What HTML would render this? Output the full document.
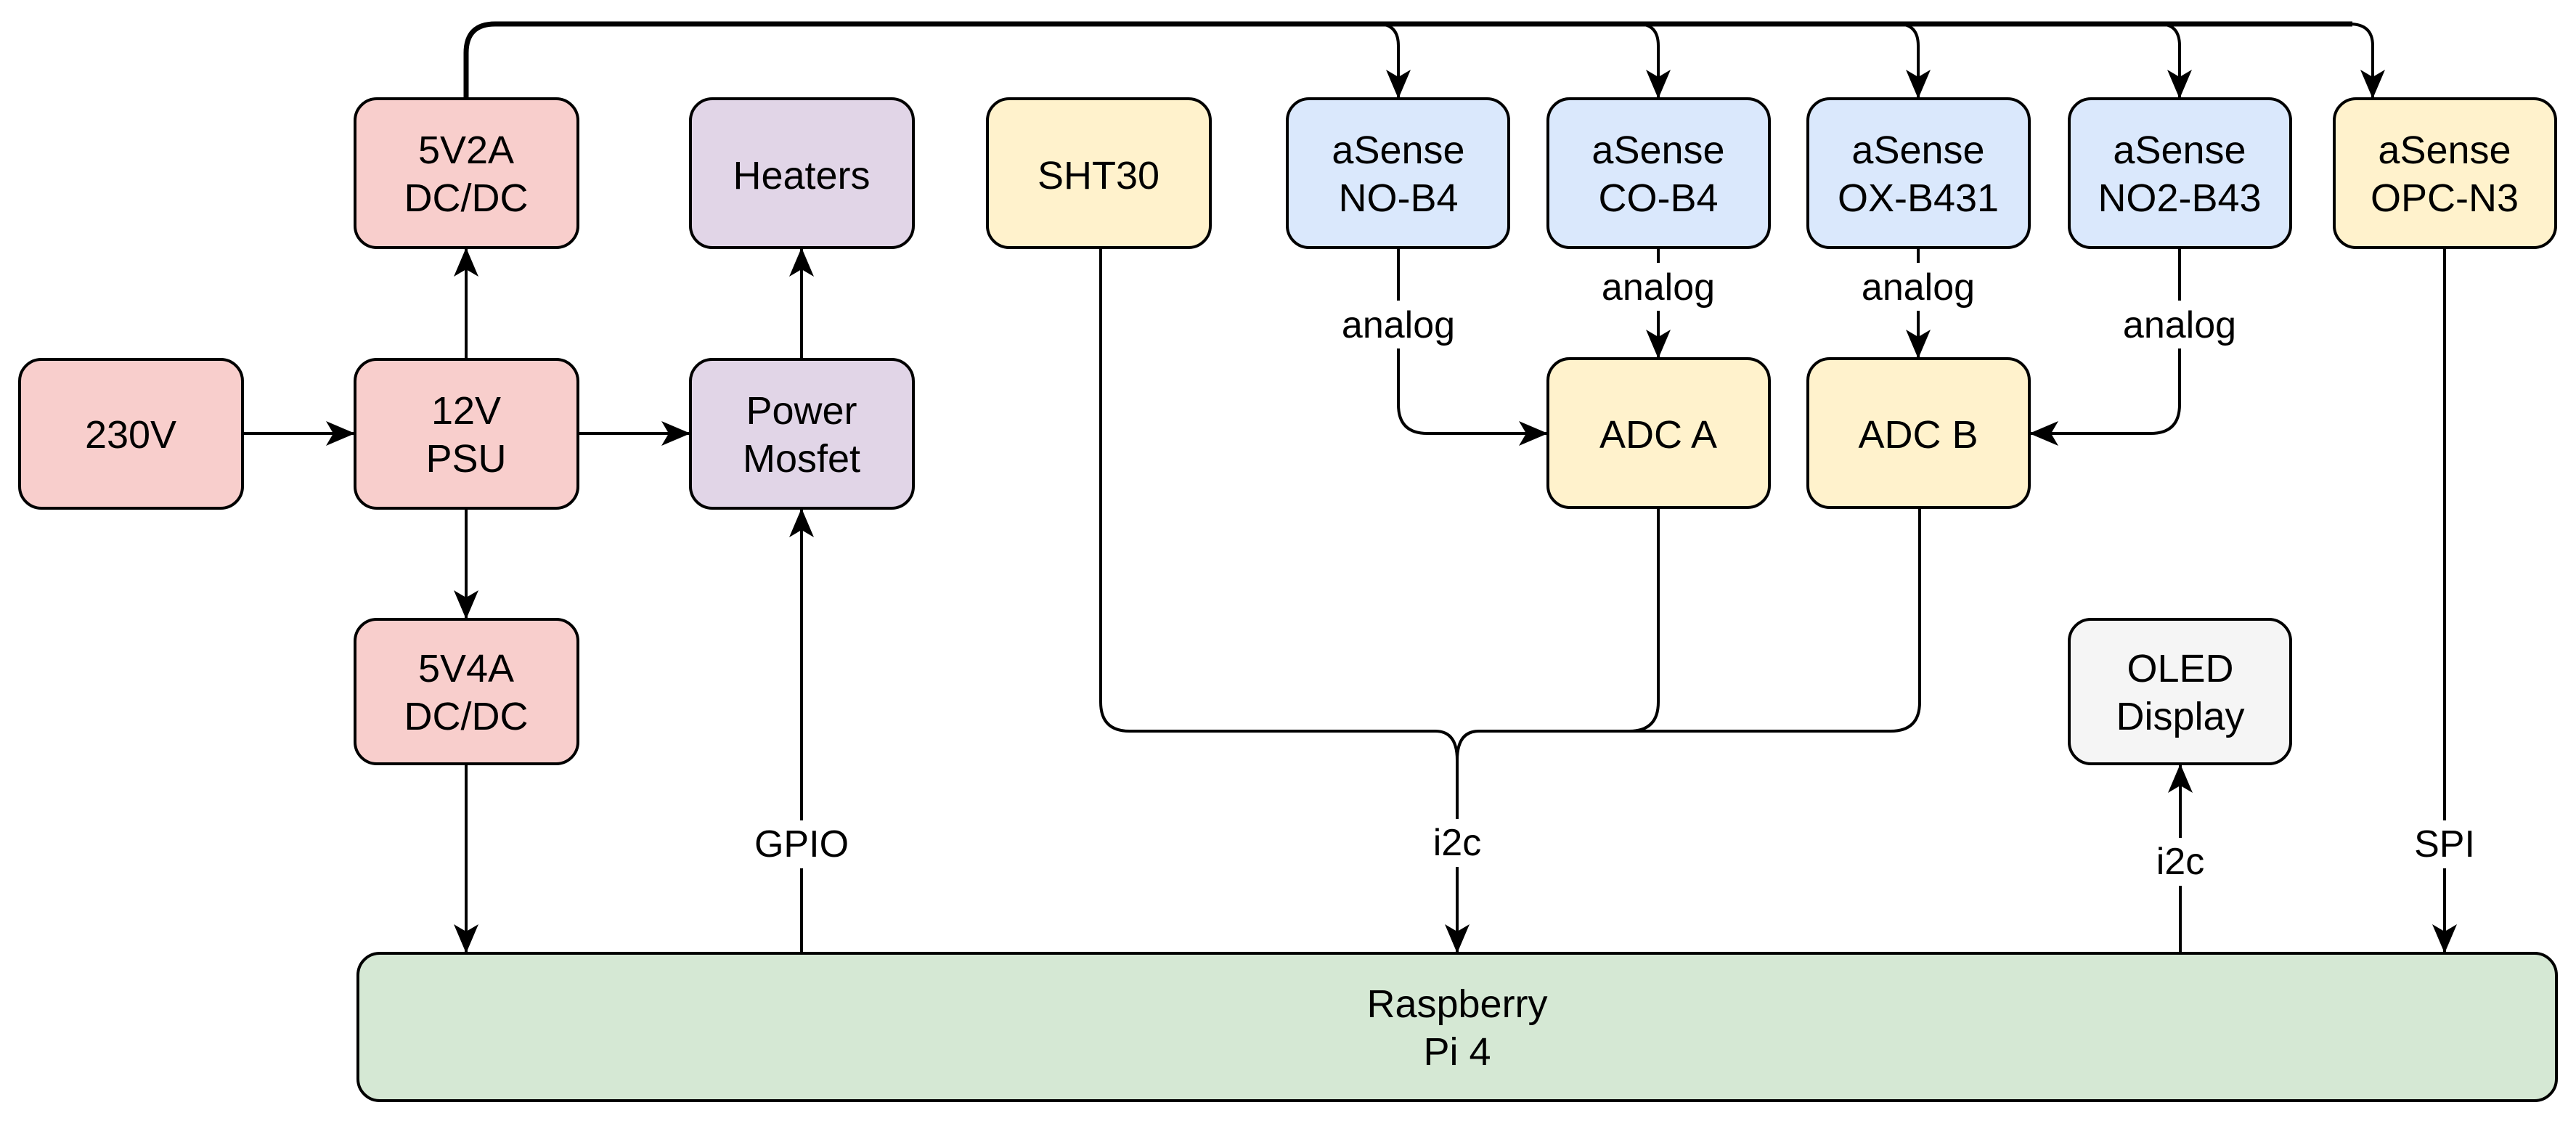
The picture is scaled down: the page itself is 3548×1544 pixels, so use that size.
<!DOCTYPE html>
<html><head><meta charset="utf-8"><style>html,body{margin:0;padding:0;background:#fff}svg{display:block}</style></head>
<body>
<svg width="3548" height="1544" viewBox="0 0 3548 1544" xmlns="http://www.w3.org/2000/svg" font-family="Liberation Sans, sans-serif">
<defs>
<marker id="a" viewBox="0 0 40 34" refX="40" refY="17" markerWidth="40" markerHeight="34" markerUnits="userSpaceOnUse" orient="auto">
<path d="M0,0 L40,17 L0,34 L10,17 Z" fill="#000"/></marker>
</defs>
<g stroke="#000" stroke-width="4" fill="none">
<path d="M642,136 V73 Q642,33 682,33 H3240" stroke-width="7"/>
<path d="M3236,33 Q3268,33 3268,63 V136" marker-end="url(#a)"/>
<path d="M1898,33 Q1926,33 1926,63 V136" marker-end="url(#a)"/>
<path d="M2256,33 Q2284,33 2284,63 V136" marker-end="url(#a)"/>
<path d="M2614,33 Q2642,33 2642,63 V136" marker-end="url(#a)"/>
<path d="M2974,33 Q3002,33 3002,63 V136" marker-end="url(#a)"/>
<path d="M334,597 H489" marker-end="url(#a)"/>
<path d="M796,597 H951" marker-end="url(#a)"/>
<path d="M642,495 V341" marker-end="url(#a)"/>
<path d="M642,700 V853" marker-end="url(#a)"/>
<path d="M1104,495 V341" marker-end="url(#a)"/>
<path d="M642,1052 V1313" marker-end="url(#a)"/>
<path d="M1104,1313 V700" marker-end="url(#a)"/>
<path d="M1926,341 V557 Q1926,597 1966,597 H2132" marker-end="url(#a)"/>
<path d="M2284,341 V494" marker-end="url(#a)"/>
<path d="M2642,341 V494" marker-end="url(#a)"/>
<path d="M3002,341 V557 Q3002,597 2962,597 H2795" marker-end="url(#a)"/>
<path d="M1516,341 V967 Q1516,1007 1556,1007 H1977 Q2007,1007 2007,1047 V1313" marker-end="url(#a)"/>
<path d="M2284,699 V967 Q2284,1007 2244,1007 H2037 Q2007,1007 2007,1047"/>
<path d="M2644,699 V967 Q2644,1007 2604,1007 H2244"/>
<path d="M3003,1313 V1052" marker-end="url(#a)"/>
<path d="M3367,341 V1313" marker-end="url(#a)"/>
</g>
<g stroke="#000" stroke-width="4">
<rect x="27" y="495" width="307" height="205" rx="30" fill="#f8cecc"/>
<rect x="489" y="136" width="307" height="205" rx="30" fill="#f8cecc"/>
<rect x="489" y="495" width="307" height="205" rx="30" fill="#f8cecc"/>
<rect x="489" y="853" width="307" height="199" rx="30" fill="#f8cecc"/>
<rect x="951" y="136" width="307" height="205" rx="30" fill="#e1d5e7"/>
<rect x="951" y="495" width="307" height="205" rx="30" fill="#e1d5e7"/>
<rect x="1360" y="136" width="307" height="205" rx="30" fill="#fff2cc"/>
<rect x="1773" y="136" width="305" height="205" rx="30" fill="#dae8fc"/>
<rect x="2132" y="136" width="305" height="205" rx="30" fill="#dae8fc"/>
<rect x="2490" y="136" width="305" height="205" rx="30" fill="#dae8fc"/>
<rect x="2850" y="136" width="305" height="205" rx="30" fill="#dae8fc"/>
<rect x="3215" y="136" width="305" height="205" rx="30" fill="#fff2cc"/>
<rect x="2132" y="494" width="305" height="205" rx="30" fill="#fff2cc"/>
<rect x="2490" y="494" width="305" height="205" rx="30" fill="#fff2cc"/>
<rect x="2850" y="853" width="305" height="199" rx="30" fill="#f5f5f5"/>
<rect x="493" y="1313" width="3028" height="203" rx="30" fill="#d5e8d4"/>
</g>
<g font-size="54" text-anchor="middle" fill="#000">
<text x="180" y="617">230V</text>
<text x="642" y="225">5V2A</text><text x="642" y="291">DC/DC</text>
<text x="642" y="584">12V</text><text x="642" y="650">PSU</text>
<text x="642" y="939">5V4A</text><text x="642" y="1005">DC/DC</text>
<text x="1104" y="260">Heaters</text>
<text x="1104" y="584">Power</text><text x="1104" y="650">Mosfet</text>
<text x="1513" y="260">SHT30</text>
<text x="1926" y="225">aSense</text><text x="1926" y="291">NO-B4</text>
<text x="2284" y="225">aSense</text><text x="2284" y="291">CO-B4</text>
<text x="2642" y="225">aSense</text><text x="2642" y="291">OX-B431</text>
<text x="3002" y="225">aSense</text><text x="3002" y="291">NO2-B43</text>
<text x="3367" y="225">aSense</text><text x="3367" y="291">OPC-N3</text>
<text x="2284" y="617">ADC A</text>
<text x="2642" y="617">ADC B</text>
<text x="3003" y="939">OLED</text><text x="3003" y="1005">Display</text>
<text x="2007" y="1401">Raspberry</text><text x="2007" y="1467">Pi 4</text>
</g>
<g font-size="52" text-anchor="middle" fill="#000">
<rect x="1846" y="414" width="160" height="66" fill="#fff"/><text x="1926" y="465">analog</text>
<rect x="2204" y="362" width="160" height="66" fill="#fff"/><text x="2284" y="413">analog</text>
<rect x="2562" y="362" width="160" height="66" fill="#fff"/><text x="2642" y="413">analog</text>
<rect x="2922" y="414" width="160" height="66" fill="#fff"/><text x="3002" y="465">analog</text>
<rect x="1029" y="1130" width="150" height="66" fill="#fff"/><text x="1104" y="1180">GPIO</text>
<rect x="1962" y="1128" width="90" height="66" fill="#fff"/><text x="2007" y="1178">i2c</text>
<rect x="2958" y="1154" width="90" height="66" fill="#fff"/><text x="3003" y="1204">i2c</text>
<rect x="3317" y="1130" width="100" height="66" fill="#fff"/><text x="3367" y="1180">SPI</text>
</g>
</svg>
</body></html>
